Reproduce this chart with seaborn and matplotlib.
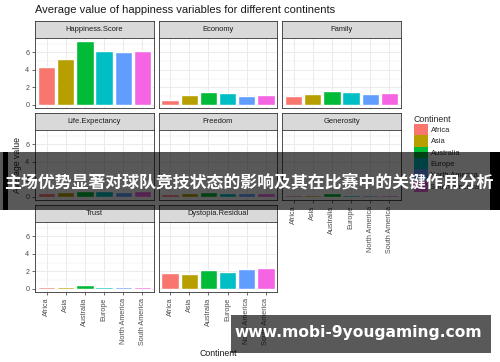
import matplotlib
matplotlib.use("Agg")
import matplotlib.pyplot as plt
from matplotlib.patches import Patch, Rectangle
import pandas as pd
import seaborn as sns

## Data ##
continents = ["Africa", "Asia", "Australia", "Europe", "North America", "South America"]
variables = ["Happiness.Score", "Economy", "Family", "Life.Expectancy", "Freedom",
             "Generosity", "Trust", "Dystopia.Residual"]
happiness = [4.29, 5.30, 7.35, 6.15, 6.08, 6.15]
economy = [0.60, 1.09, 1.50, 1.40, 1.05, 1.12]
family = [1.00, 1.20, 1.58, 1.43, 1.29, 1.40]
life_exp = [0.45, 0.60, 0.70, 0.66, 0.58, 0.62]
freedom = [0.36, 0.43, 0.59, 0.42, 0.45, 0.42]
generosity = [0.20, 0.25, 0.45, 0.20, 0.20, 0.15]
trust = [0.18, 0.20, 0.44, 0.20, 0.15, 0.15]
dystopia = [1.84, 1.70, 2.10, 1.96, 2.29, 2.33]
palette = ["#F8766D", "#B79F00", "#00BA38", "#00BFC4", "#619CFF", "#F564E3"]

series = [happiness, economy, family, life_exp, freedom, generosity, trust, dystopia]
df = pd.DataFrame({
    "Continent": continents * len(variables),
    "Variable": [v for v in variables for _ in continents],
    "value": [x for s in series for x in s],
})

sns.set_theme(style="white")
plt.rcParams["font.family"] = ["Liberation Sans", "DejaVu Sans"]

W, H = 500, 362
fig = plt.figure(figsize=(5.0, 3.62), dpi=100)
fig.patch.set_facecolor("white")

def box(x0, y0, x1, y1):
    # pixel box (top-left origin) -> figure fraction rect
    return [x0 / W, 1 - y1 / H, (x1 - x0) / W, (y1 - y0) / H]

col_left = [35, 158.5, 282]
col_w = 119
row_top = [21, 113, 205]
strip_h = 16.5
panel_h = 70.5
border = "#333333"
grid_c = "#EBEBEB"
tick_c = "#4D4D4D"

for i, var in enumerate(variables):
    r, c = divmod(i, 3)
    x0 = col_left[c]
    top = row_top[r]

    ## strip ##
    sax = fig.add_axes(box(x0, top, x0 + col_w, top + strip_h))
    sax.set_facecolor("#D9D9D9")
    sax.set_xticks([])
    sax.set_yticks([])
    for s in sax.spines.values():
        s.set_color(border)
        s.set_linewidth(0.6)
    sax.text(0.5, 0.5, var, ha="center", va="center", fontsize=5.4, color="#1A1A1A",
             transform=sax.transAxes)

    ## panel ##
    ax = fig.add_axes(box(x0, top + strip_h, x0 + col_w, top + strip_h + panel_h))
    sns.barplot(data=df[df["Variable"] == var], x="Continent", y="value", hue="Continent",
                order=continents, hue_order=continents, palette=palette, saturation=1,
                width=0.9, legend=False, ax=ax)
    ax.set_xlim(-0.6, 5.6)
    ax.set_ylim(-0.37, 7.72)
    ax.set_yticks([0, 2, 4, 6])
    ax.set_yticks([1, 3, 5, 7], minor=True)
    ax.set_xlabel("")
    ax.set_ylabel("")
    ax.set_facecolor("white")
    ax.grid(True, which="major", color=grid_c, linewidth=0.7)
    ax.grid(True, which="minor", axis="y", color=grid_c, linewidth=0.35)
    ax.set_axisbelow(True)
    for s in ax.spines.values():
        s.set_visible(True)
        s.set_color(border)
        s.set_linewidth(0.6)

    show_y = c == 0
    show_x = i >= 5
    ax.tick_params(axis="y", which="major", left=show_y, labelleft=show_y, length=2.5,
                   width=0.5, color=border, labelsize=5.2, labelcolor=tick_c, pad=1.5)
    ax.tick_params(axis="y", which="minor", left=False)
    ax.tick_params(axis="x", bottom=show_x, labelbottom=show_x, length=2.5, width=0.5,
                   color=border, labelsize=5.2, labelcolor=tick_c, pad=1.5)
    if show_x:
        plt.setp(ax.get_xticklabels(), rotation=90, ha="center", va="top")

## Titles ##
fig.text(35 / W, 1 - 10 / H, "Average value of happiness variables for different continents",
         fontsize=8.0, color="#1A1A1A", ha="left", va="center")
fig.text(218 / W, 1 - 353 / H, "Continent", fontsize=6.3, color="#1A1A1A",
         ha="center", va="center")
fig.text(17 / W, 1 - 165 / H, "Average value", fontsize=6.3, color="#1A1A1A",
         ha="center", va="center", rotation=90)

## Legend ##
handles = [Patch(facecolor=p, edgecolor="none", label=n) for p, n in zip(palette, continents)]
fig.legend(handles=handles, title="Continent", loc="upper left",
           bbox_to_anchor=(414 / W, 1 - 115 / H), frameon=False, fontsize=5.4,
           title_fontsize=6.3, handlelength=1.9, handleheight=1.95, labelspacing=0,
           handletextpad=0.3, borderpad=0, borderaxespad=0, alignment="left")

## Overlay banner ##
fig.patches.append(Rectangle((0, 1 - 210 / H), 1, 58 / H, transform=fig.transFigure,
                             facecolor="black", alpha=0.65, edgecolor="none", zorder=10))
fig.patches.append(Rectangle((3 / W, 1 - 210 / H), 5 / W, 58 / H, transform=fig.transFigure,
                             facecolor="black", edgecolor="none", zorder=11))
fig.patches.append(Rectangle((490 / W, 1 - 210 / H), 10 / W, 58 / H, transform=fig.transFigure,
                             facecolor="black", edgecolor="none", zorder=11))
fig.text(249 / W, 1 - 182 / H, "主场优势显著对球队竞技状态的影响及其在比赛中的关键作用分析",
         fontsize=12.2, color="white", fontweight="bold", ha="center", va="center",
         family=["Noto Sans CJK SC", "DejaVu Sans"], zorder=12)

## Watermark ##
fig.patches.append(Rectangle((231 / W, 1 - 353 / H), 260 / W, 38 / H, transform=fig.transFigure,
                             facecolor="black", alpha=0.65, edgecolor="none", zorder=10))
fig.text(358 / W, 1 - 333 / H, "www.mobi-9yougaming.com", fontsize=11.2, color="white",
         fontweight="bold", ha="center", va="center", family=["DejaVu Sans"], zorder=12)

fig.savefig("out.png", dpi=100)
